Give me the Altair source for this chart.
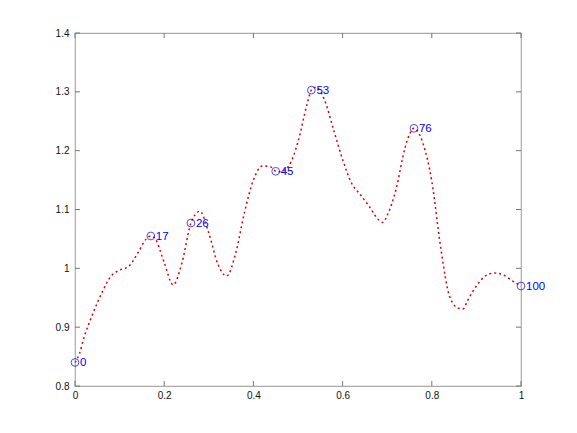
import altair as alt
import pandas as pd

# curve samples
xs = [0, 0.01, 0.02, 0.04, 0.06, 0.08, 0.10, 0.12, 0.14, 0.16, 0.17, 0.18, 0.20,
      0.22, 0.24, 0.26, 0.28, 0.30, 0.32, 0.34, 0.36, 0.38, 0.40, 0.42, 0.44,
      0.45, 0.46, 0.48, 0.50, 0.52, 0.53, 0.54, 0.56, 0.58, 0.60, 0.62, 0.64,
      0.66, 0.68, 0.69, 0.70, 0.72, 0.74, 0.75, 0.76, 0.78, 0.80, 0.82, 0.84,
      0.86, 0.87, 0.88, 0.90, 0.92, 0.94, 0.96, 0.98, 1.00]
ys = [0.840, 0.855, 0.882, 0.923, 0.958, 0.986, 0.997, 1.003, 1.025, 1.050, 1.055,
      1.050, 1.010, 0.972, 1.010, 1.077, 1.097, 1.060, 1.008, 0.987, 1.025, 1.095,
      1.150, 1.174, 1.172, 1.165, 1.164, 1.175, 1.215, 1.278, 1.303, 1.308, 1.285,
      1.235, 1.185, 1.145, 1.125, 1.105, 1.083, 1.078, 1.090, 1.135, 1.205, 1.228,
      1.238, 1.213, 1.148, 1.035, 0.952, 0.932, 0.931, 0.945, 0.970, 0.987, 0.992,
      0.989, 0.979, 0.970]

# labelled markers
mark_idx = [0, 17, 26, 45, 53, 76, 100]
mark_x = [0.00, 0.17, 0.26, 0.45, 0.53, 0.76, 1.00]
mark_y = [0.840, 1.055, 1.077, 1.165, 1.303, 1.238, 0.970]

x_ticks = [0, 0.2, 0.4, 0.6, 0.8, 1]
y_ticks = [0.8, 0.9, 1, 1.1, 1.2, 1.3, 1.4]

W, H = 446, 353
TL = 5
TICK_COLOR = "#777777"

line_df = pd.DataFrame({"x": xs, "y": ys})
mark_df = pd.DataFrame({"x": mark_x, "y": mark_y, "label": [str(i) for i in mark_idx]})
xt_df = pd.DataFrame({"x": x_ticks})
yt_df = pd.DataFrame({"y": y_ticks})

xscale = alt.Scale(domain=[0, 1], nice=False, zero=False)
yscale = alt.Scale(domain=[0.8, 1.4], nice=False, zero=False)

xaxis = alt.Axis(values=x_ticks, format="~g", ticks=False, domain=False, grid=False,
                 labelPadding=4, title=None, labelFontSize=10, labelColor="#111111",
                 labelFont="Liberation Sans", labelFlush=False, labelOverlap=False)
yaxis = alt.Axis(values=y_ticks, format="~g", ticks=False, domain=False, grid=False,
                 labelPadding=6, title=None, labelFontSize=10, labelColor="#111111",
                 labelFont="Liberation Sans", labelFlush=False, labelOverlap=False)

X = alt.X("x:Q", scale=xscale, axis=xaxis)
Y = alt.Y("y:Q", scale=yscale, axis=yaxis)

line = alt.Chart(line_df).mark_line(
    color="#dd0000", strokeWidth=1.5, strokeDash=[2, 3], interpolate="monotone"
).encode(x=X, y=Y)

pts = alt.Chart(mark_df).mark_point(
    shape="circle", filled=False, color="#0000ff", size=60, strokeWidth=1
).encode(x=X, y=Y)

txt = alt.Chart(mark_df).mark_text(
    align="left", baseline="middle", dx=5, dy=1, color="#0000ff", fontSize=11.5,
    font="Liberation Sans"
).encode(x=X, y=Y, text="label:N")

bot = alt.Chart(xt_df).mark_rule(color=TICK_COLOR, strokeWidth=1).encode(
    x=X, y=alt.value(H), y2=alt.value(H - TL))
top = alt.Chart(xt_df).mark_rule(color=TICK_COLOR, strokeWidth=1).encode(
    x=X, y=alt.value(0), y2=alt.value(TL))
left = alt.Chart(yt_df).mark_rule(color=TICK_COLOR, strokeWidth=1).encode(
    y=Y, x=alt.value(0), x2=alt.value(TL))
right = alt.Chart(yt_df).mark_rule(color=TICK_COLOR, strokeWidth=1).encode(
    y=Y, x=alt.value(W), x2=alt.value(W - TL))

chart = alt.layer(line, bot, top, left, right, pts, txt).properties(
    width=W, height=H,
    autosize=alt.AutoSizeParams(type="none"),
    padding={"left": 67, "top": 25, "right": 40, "bottom": 40},
    background="white",
).configure_view(stroke="#aaaaaa", strokeWidth=1.2)

chart.save("out.html", embed_options={"renderer": "svg", "actions": False})
